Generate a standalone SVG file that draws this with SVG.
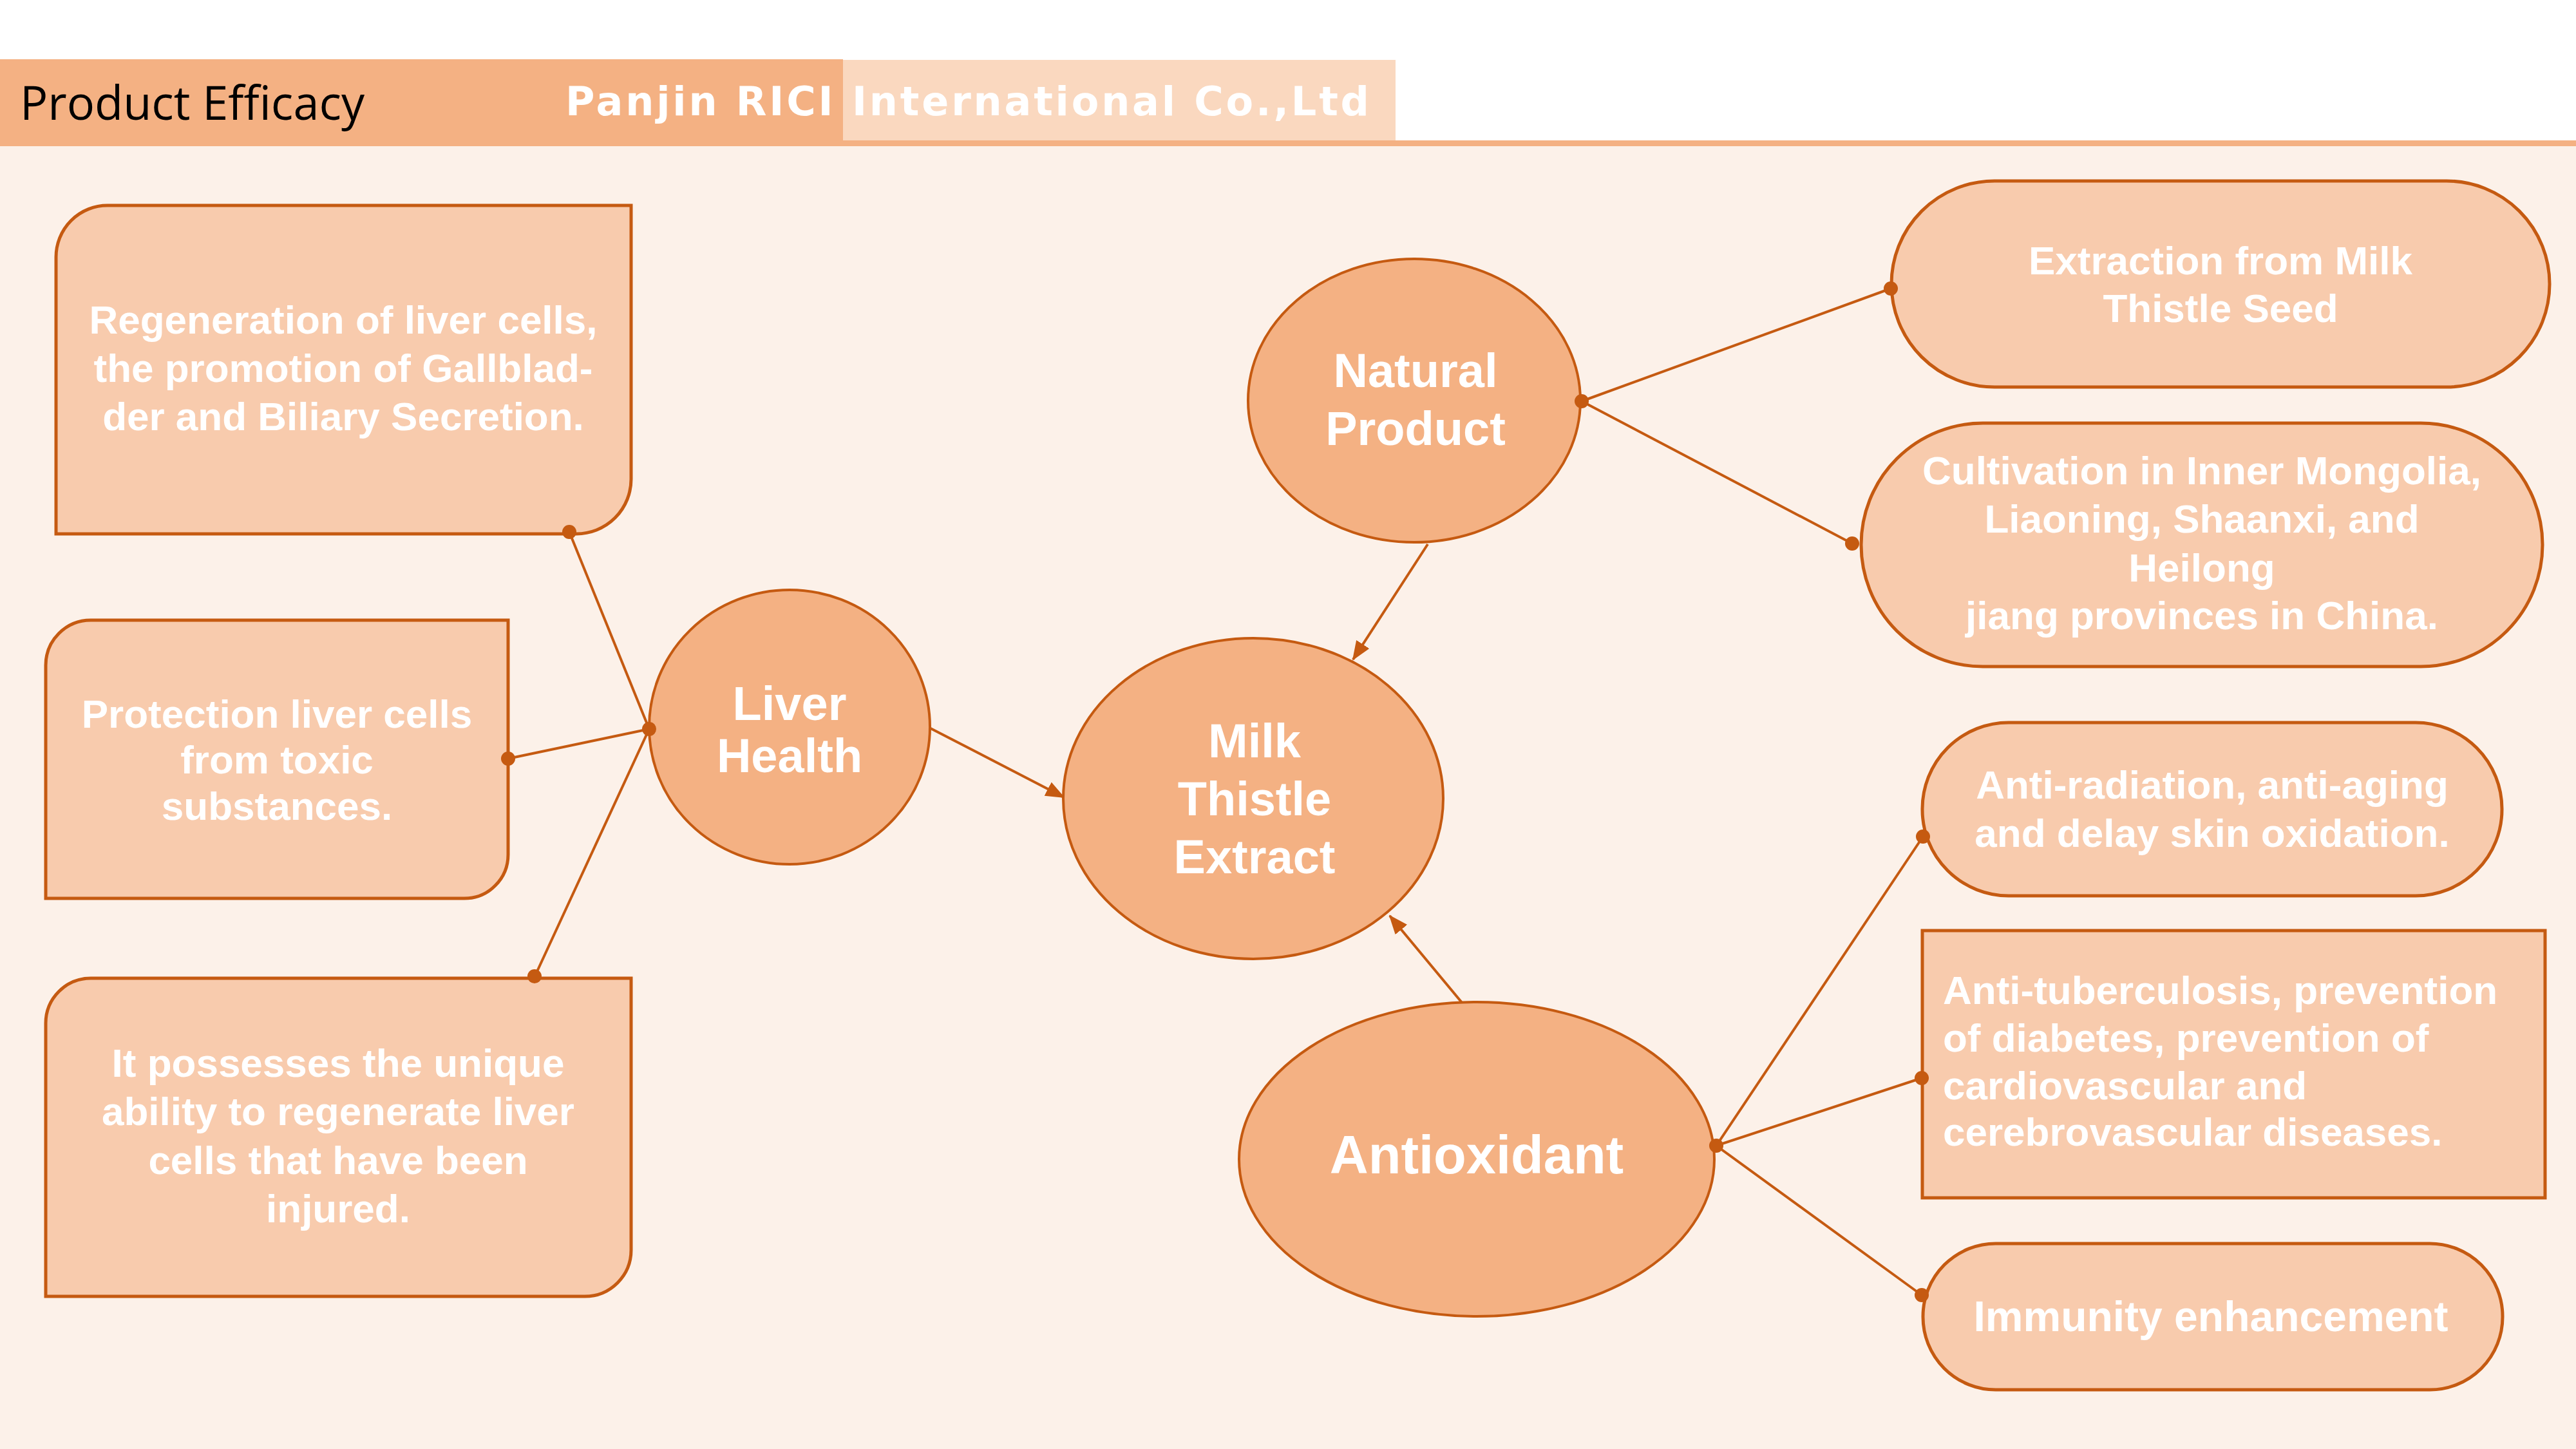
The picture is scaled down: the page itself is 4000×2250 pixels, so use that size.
<svg xmlns="http://www.w3.org/2000/svg" width="4000" height="2250" viewBox="0 0 4000 2250">
<defs>
<marker id="arr" viewBox="0 0 30 24" refX="28" refY="12" markerWidth="30" markerHeight="24" markerUnits="userSpaceOnUse" orient="auto">
<path d="M0 0 L30 12 L0 24 Z" fill="#C55A11"/>
</marker>
<style>
.hub{fill:#F4B183;stroke:#C55A11;stroke-width:4}
.box{fill:#F8CBAD;stroke:#C55A11;stroke-width:5}
.t{font-family:"Liberation Sans",Arial,sans-serif;font-weight:bold;fill:#FFFFFF;font-size:62px;text-anchor:middle}
.tl{font-family:"Liberation Sans",Arial,sans-serif;font-weight:bold;fill:#FFFFFF;font-size:62px;text-anchor:start}
.h{font-family:"Liberation Sans",Arial,sans-serif;font-weight:bold;fill:#FFFFFF;font-size:74px;text-anchor:middle}
.ln{stroke:#C55A11;stroke-width:4;fill:none}
.dot{fill:#C55A11}
</style>
</defs>
<rect x="0" y="0" width="4000" height="2250" fill="#FCF1E9"/>
<rect x="0" y="0" width="4000" height="222" fill="#FFFFFF"/>
<g id="header">
<rect x="0" y="92" width="1309" height="134" fill="#F4B183"/>
<rect x="1309" y="93" width="858" height="125" fill="#FAD8BF"/>
<rect x="0" y="218" width="4000" height="9" fill="#F4B183"/>
<text x="31" y="186" font-family="Open Sans, Liberation Sans, sans-serif" font-size="74" fill="#000000" textLength="535" lengthAdjust="spacingAndGlyphs">Product Efficacy</text>
<text x="878" y="179" font-family="DejaVu Sans, sans-serif" font-weight="bold" font-size="62" fill="#FFFFFF" textLength="1248" lengthAdjust="spacing">Panjin RICI International Co.,Ltd</text>
</g>
<g id="connectors">
<line class="ln" x1="884" y1="826" x2="1008" y2="1132"/>
<line class="ln" x1="789" y1="1178" x2="1008" y2="1132"/>
<line class="ln" x1="830" y1="1517" x2="1008" y2="1132"/>
<line class="ln" x1="1445" y1="1131" x2="1652" y2="1238" marker-end="url(#arr)"/>
<line class="ln" x1="2217" y1="845" x2="2101" y2="1024" marker-end="url(#arr)"/>
<line class="ln" x1="2271" y1="1558" x2="2158" y2="1422" marker-end="url(#arr)"/>
<line class="ln" x1="2456" y1="623" x2="2936" y2="448"/>
<line class="ln" x1="2456" y1="623" x2="2876" y2="844"/>
<line class="ln" x1="2665" y1="1779" x2="2986" y2="1299"/>
<line class="ln" x1="2665" y1="1779" x2="2984" y2="1674"/>
<line class="ln" x1="2665" y1="1779" x2="2984" y2="2011"/>
</g>
<g id="regeneration">
<path class="box" d="M167 319 H980 V744 A85 85 0 0 1 895 829 H87 V399 A80 80 0 0 1 167 319 Z"/>
<text class="t" x="533" y="518">Regeneration of liver cells,</text>
<text class="t" x="533" y="593">the promotion of Gallblad-</text>
<text class="t" x="533" y="668">der and Biliary Secretion.</text>
</g>
<g id="protection">
<path class="box" d="M141 963 H789 V1327 A68 68 0 0 1 721 1395 H71 V1033 A70 70 0 0 1 141 963 Z"/>
<text class="t" x="430" y="1130">Protection liver cells</text>
<text class="t" x="430" y="1201">from toxic</text>
<text class="t" x="430" y="1273">substances.</text>
</g>
<g id="possesses">
<path class="box" d="M141 1519 H980 V1941 A72 72 0 0 1 908 2013 H71 V1589 A70 70 0 0 1 141 1519 Z"/>
<text class="t" x="525" y="1672">It possesses the unique</text>
<text class="t" x="525" y="1747">ability to regenerate liver</text>
<text class="t" x="525" y="1823">cells that have been</text>
<text class="t" x="525" y="1898">injured.</text>
</g>
<g id="liver-health">
<ellipse class="hub" cx="1226" cy="1129" rx="218" ry="213"/>
<text class="h" x="1226" y="1118">Liver</text>
<text class="h" x="1226" y="1199">Health</text>
</g>
<g id="milk-thistle">
<ellipse class="hub" cx="1946" cy="1240" rx="295" ry="249"/>
<text class="h" x="1948" y="1176">Milk</text>
<text class="h" x="1948" y="1266">Thistle</text>
<text class="h" x="1948" y="1356">Extract</text>
</g>
<g id="natural-product">
<ellipse class="hub" cx="2196" cy="622" rx="258" ry="220"/>
<text class="h" x="2198" y="601">Natural</text>
<text class="h" x="2198" y="691">Product</text>
</g>
<g id="antioxidant">
<ellipse class="hub" cx="2293" cy="1800" rx="369" ry="244"/>
<text class="h" x="2293" y="1822" style="font-size:83px">Antioxidant</text>
</g>
<g id="extraction">
<rect class="box" x="2937" y="281" width="1022" height="320" rx="160" ry="160"/>
<text class="t" x="3448" y="426">Extraction from Milk</text>
<text class="t" x="3448" y="500">Thistle Seed</text>
</g>
<g id="cultivation">
<rect class="box" x="2890" y="657" width="1058" height="378" rx="189" ry="189"/>
<text class="t" x="3419" y="752">Cultivation in Inner Mongolia,</text>
<text class="t" x="3419" y="827">Liaoning, Shaanxi, and</text>
<text class="t" x="3419" y="903">Heilong</text>
<text class="t" x="3419" y="977">jiang provinces in China.</text>
</g>
<g id="anti-radiation">
<rect class="box" x="2985" y="1122" width="900" height="269" rx="134" ry="134"/>
<text class="t" x="3435" y="1240">Anti-radiation, anti-aging</text>
<text class="t" x="3435" y="1315">and delay skin oxidation.</text>
</g>
<g id="anti-tuberculosis">
<rect class="box" x="2985" y="1445" width="967" height="415"/>
<text class="tl" x="3017" y="1559">Anti-tuberculosis, prevention</text>
<text class="tl" x="3017" y="1633">of diabetes, prevention of</text>
<text class="tl" x="3017" y="1707">cardiovascular and</text>
<text class="tl" x="3017" y="1779">cerebrovascular diseases.</text>
</g>
<g id="immunity">
<rect class="box" x="2986" y="1931" width="900" height="227" rx="113" ry="113"/>
<text class="t" x="3433" y="2067" style="font-size:66px">Immunity enhancement</text>
</g>
<g id="dots">
<circle class="dot" cx="884" cy="826" r="11"/>
<circle class="dot" cx="789" cy="1178" r="11"/>
<circle class="dot" cx="830" cy="1516" r="11"/>
<circle class="dot" cx="1008" cy="1132" r="11"/>
<circle class="dot" cx="2456" cy="623" r="11"/>
<circle class="dot" cx="2936" cy="448" r="11"/>
<circle class="dot" cx="2876" cy="844" r="11"/>
<circle class="dot" cx="2665" cy="1779" r="11"/>
<circle class="dot" cx="2986" cy="1299" r="11"/>
<circle class="dot" cx="2984" cy="1674" r="11"/>
<circle class="dot" cx="2984" cy="2011" r="11"/>
</g>
</svg>
